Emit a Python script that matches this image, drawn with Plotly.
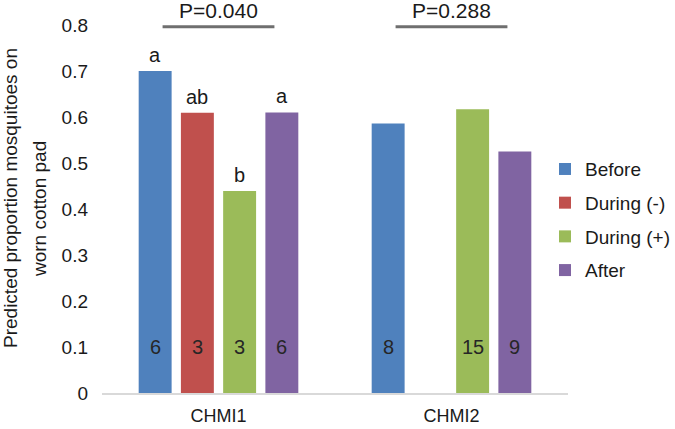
import plotly.graph_objects as go

categories = ["CHMI1", "CHMI2"]
series_names = ["Before", "During (-)", "During (+)", "After"]
before = [0.700, 0.586]
during_minus = [0.609, None]
during_plus = [0.439, 0.617]
after = [0.610, 0.525]
letters_before = ["a", ""]
letters_during_minus = ["ab", ""]
letters_during_plus = ["b", ""]
letters_after = ["a", ""]
counts_before = ["6", "8"]
counts_during_minus = ["3", ""]
counts_during_plus = ["3", "15"]
counts_after = ["6", "9"]
p_labels = ["P=0.040", "P=0.288"]
y_ticks = [0, 0.1, 0.2, 0.3, 0.4, 0.5, 0.6, 0.7, 0.8]
y_tick_text = ["0", "0.1", "0.2", "0.3", "0.4", "0.5", "0.6", "0.7", "0.8"]
y_title_lines = ["Predicted proportion mosquitoes on", "worn cotton pad"]
count_level = 0.1

colors = ["#4F81BD", "#C0504D", "#9BBB59", "#8064A2"]
values = [before, during_minus, during_plus, after]
letters = [letters_before, letters_during_minus, letters_during_plus, letters_after]
counts = [counts_before, counts_during_minus, counts_during_plus, counts_after]

FONT = "Liberation Sans, Arial, sans-serif"
TXT = "#1a1a1a"
bargap = 0.275
bargroupgap = 0.22

fig = go.Figure()
for i, (name, vals, col) in enumerate(zip(series_names, values, colors)):
    fig.add_trace(go.Bar(
        x=categories, y=vals, name=name, marker=dict(color=col, line=dict(width=0)),
        legendgroup=name,
    ))

n = len(series_names)
slot = (1 - bargap) / n
annotations = []
for i in range(n):
    off = -(1 - bargap) / 2 + slot * (i + 0.5)
    for j, cat in enumerate(categories):
        v = values[i][j]
        if v is None:
            continue
        if letters[i][j]:
            annotations.append(dict(x=j + off, y=v, xref="x", yref="y", text=letters[i][j],
                                    showarrow=False, yanchor="bottom", yshift=3,
                                    font=dict(family=FONT, size=20, color=TXT)))
        if counts[i][j]:
            annotations.append(dict(x=j + off, y=count_level, xref="x", yref="y", text=counts[i][j],
                                    showarrow=False, yanchor="middle",
                                    font=dict(family=FONT, size=20, color="#262626")))

shapes = []
for j, p in enumerate(p_labels):
    annotations.append(dict(x=j, y=1.0, xref="x", yref="paper", text=p, showarrow=False,
                            yanchor="bottom", yshift=1,
                            font=dict(family=FONT, size=21, color=TXT)))
    shapes.append(dict(type="line", xref="x", yref="y", x0=j - 0.24, x1=j + 0.24,
                       y0=0.796, y1=0.796, line=dict(color="#6f6f6f", width=3)))

# y-axis title (two lines, drawn as rotated text)
for k, (line, xs, ys) in enumerate(zip(y_title_lines, [-92, -63], [11, 0])):
    annotations.append(dict(x=0, y=0.5, xref="paper", yref="paper", text=line,
                            textangle=-90, showarrow=False, xanchor="center", yanchor="middle",
                            xshift=xs, yshift=ys,
                            font=dict(family=FONT, size=19, color=TXT)))

fig.update_layout(
    width=675, height=429,
    margin=dict(l=102, r=107, t=25, b=36, autoexpand=False),
    paper_bgcolor="white", plot_bgcolor="white",
    barmode="group", bargap=bargap, bargroupgap=bargroupgap,
    font=dict(family=FONT, size=19, color=TXT),
    showlegend=True,
    legend=dict(x=0.9506, xanchor="left", y=0.660, yanchor="top",
                traceorder="grouped", tracegroupgap=6,
                bgcolor="rgba(0,0,0,0)", font=dict(family=FONT, size=19, color=TXT)),
    xaxis=dict(showline=True, linecolor="#D9D9D9", linewidth=1.5, ticks="",
               ticklabelstandoff=6,
               tickfont=dict(family=FONT, size=18, color=TXT), showgrid=False, zeroline=False),
    yaxis=dict(range=[0, 0.8], tickvals=y_ticks, ticktext=y_tick_text, showgrid=False,
               zeroline=False, showline=False, ticks="", ticklabelstandoff=13,
               tickfont=dict(family=FONT, size=19, color=TXT)),
    annotations=annotations, shapes=shapes,
)

fig.write_html("out.html", config={"displayModeBar": False, "staticPlot": True},
               post_script="document.body.style.margin='0';")
